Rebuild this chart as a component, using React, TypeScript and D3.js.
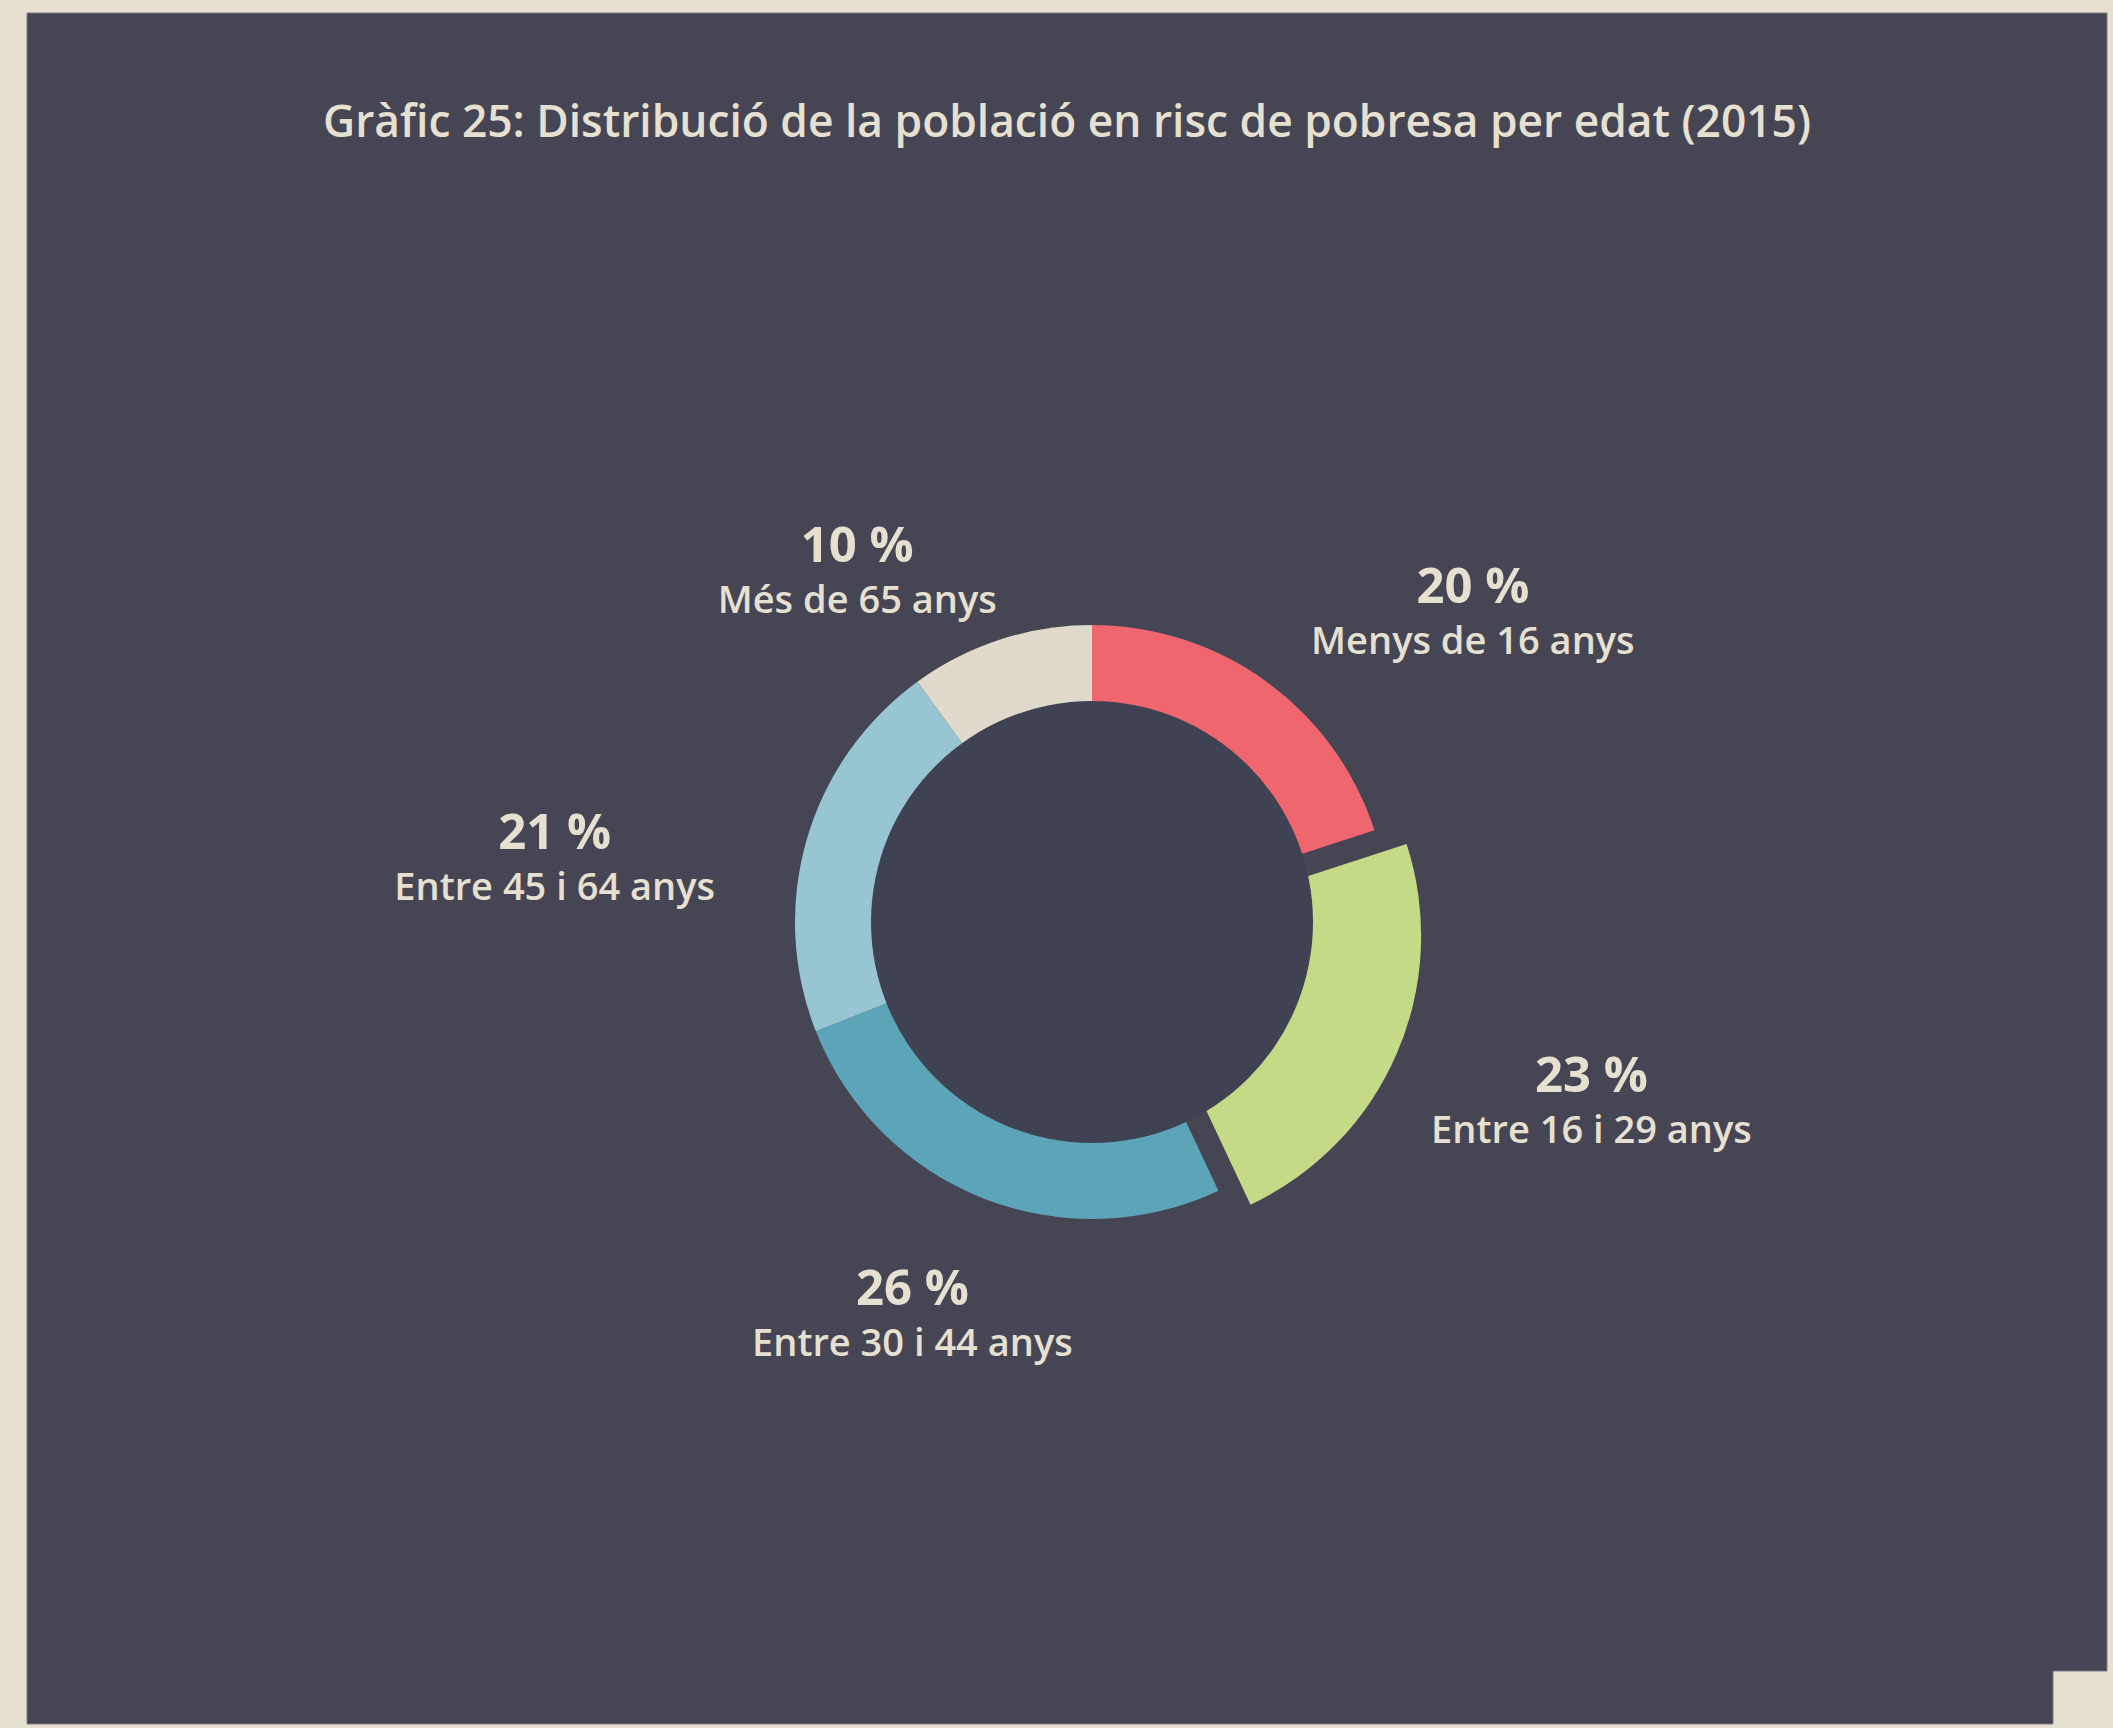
import React from "react";
import * as d3 from "d3";

const title = "Gràfic 25: Distribució de la població en risc de pobresa per edat (2015)";
const categories = [
  "Menys de 16 anys",
  "Entre 16 i 29 anys",
  "Entre 30 i 44 anys",
  "Entre 45 i 64 anys",
  "Més de 65 anys",
];
const values = [20, 23, 26, 21, 10];
const colors = ["#f0666f", "#c4da87", "#5ca5b8", "#97c5d2", "#dfdacb"];
const explodedIndex = 1;

// layout
const W = 2113;
const H = 1728;
const cx = 1092;
const cy = 922;
const outerR = 297;
const innerR = 221;
const explodeDist = 35;
const labelR = 420;
const labelNudge: [number, number][] = [
  [134, 21],
  [114, 3],
  [-25, -8],
  [-134, 44],
  [-105, 39],
];
const textColor = "#e6e0d1";
const font = "'Open Sans', 'Noto Sans', sans-serif";

export default function App() {
  const pie = d3
    .pie<number>()
    .sort(null)
    .value((d) => d)
    .startAngle(0)
    .endAngle(2 * Math.PI);
  const arcs = pie(values);
  const arc = d3.arc<d3.PieArcDatum<number>>().innerRadius(0).outerRadius(outerR);

  const panel = `M27,13 L2107,13 L2107,1671 L2053,1671 L2053,1724 L27,1724 Z`;

  return (
    <svg
      width={W}
      height={H}
      style={{ position: "absolute", left: 0, top: 0, display: "block" }}
    >
      <rect x={0} y={0} width={W} height={H} fill="#e6e0d1" />
      <path d={panel} fill="#464554" stroke="#7c7a88" strokeWidth={1} />
      <text
        x={1067}
        y={137}
        textAnchor="middle"
        fill={textColor}
        fontFamily={font}
        fontWeight={600}
        fontSize={46}
        textLength={1488}
        lengthAdjust="spacingAndGlyphs"
      >
        {title}
      </text>
      <g transform={`translate(${cx},${cy})`}>
        {arcs.map((a, i) => {
          const mid = (a.startAngle + a.endAngle) / 2;
          const off = i === explodedIndex ? explodeDist : 0;
          const tx = Math.sin(mid) * off;
          const ty = -Math.cos(mid) * off;
          return (
            <path
              key={i}
              d={arc(a) || ""}
              fill={colors[i]}
              transform={`translate(${tx},${ty})`}
            />
          );
        })}
        <circle r={innerR} fill="#3f4253" />
        {arcs.map((a, i) => {
          const mid = (a.startAngle + a.endAngle) / 2;
          const lx = Math.sin(mid) * labelR + labelNudge[i][0];
          const ly = -Math.cos(mid) * labelR + labelNudge[i][1];
          return (
            <g key={"l" + i} fontFamily={font} fill={textColor} textAnchor="middle">
              <text x={lx} y={ly} fontSize={49} fontWeight={700}>
                {`${values[i]} %`}
              </text>
              <text x={lx} y={ly + 51} fontSize={38} fontWeight={600}>
                {categories[i]}
              </text>
            </g>
          );
        })}
      </g>
    </svg>
  );
}
